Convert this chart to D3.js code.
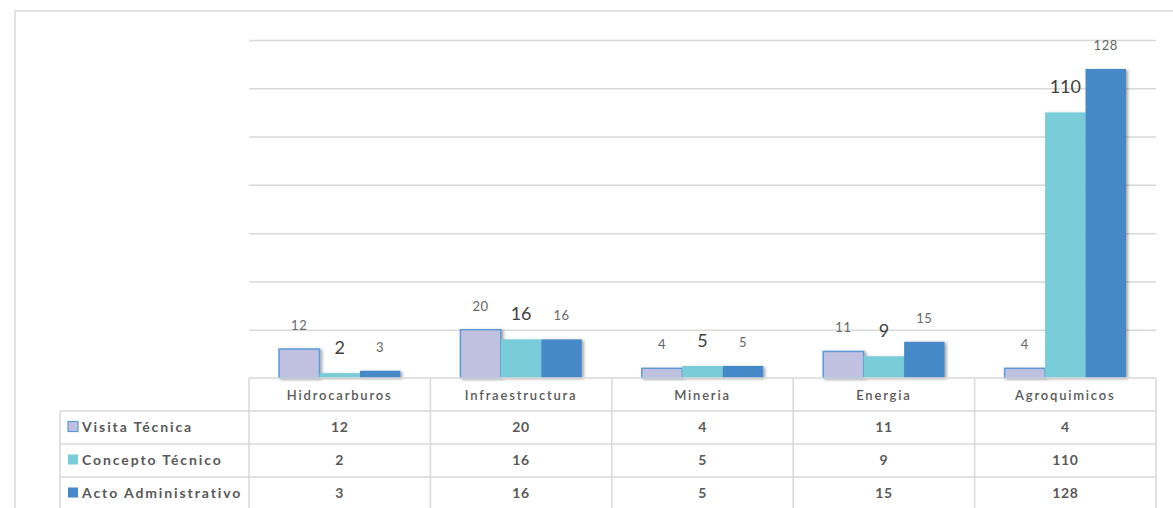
<!DOCTYPE html>
<html>
<head>
<meta charset="utf-8">
<script src="https://cdn.jsdelivr.net/npm/d3@7"></script>
<style>
  body { margin: 0; background: #fff; }
  svg { display: block; font-family: Lato, "Open Sans", sans-serif; }
</style>
</head>
<body>
<div id="chart"></div>
<script>
const categories = ["Hidrocarburos", "Infraestructura", "Mineria", "Energia", "Agroquimicos"];
const seriesNames = ["Visita Técnica", "Concepto Técnico", "Acto Administrativo"];
const visita = [12, 20, 4, 11, 4];
const concepto = [2, 16, 5, 9, 110];
const acto = [3, 16, 5, 15, 128];
const yTicks = [20, 40, 60, 80, 100, 120, 140];

const values = [visita, concepto, acto];
const colors = ["#c0c0e0", "#78cdd9", "#4589c8"];

const width = 1173, height = 508;
const plotLeft = 249, plotRight = 1156, base = 378, plotTop = 40;
const rowH = 33;

const svg = d3.select("#chart").append("svg")
  .attr("width", width)
  .attr("height", height);

// drop shadow for bars
const defs = svg.append("defs");
defs.append("filter").attr("id", "shadow")
  .attr("x", "-20%").attr("y", "-20%").attr("width", "150%").attr("height", "150%")
  .append("feDropShadow")
  .attr("dx", 2).attr("dy", 1).attr("stdDeviation", 1.5)
  .attr("flood-color", "#000").attr("flood-opacity", 0.35);

// outer frame
svg.append("rect")
  .attr("x", 15).attr("y", 11)
  .attr("width", width).attr("height", height)
  .attr("fill", "none").attr("stroke", "#d9d9d9").attr("stroke-width", 1.5);

const x = d3.scaleBand().domain(categories).range([plotLeft, plotRight]).paddingInner(0);
const xs = d3.scaleBand().domain(seriesNames)
  .range([30, x.bandwidth() - 30]).paddingInner(0);
const y = d3.scaleLinear().domain([0, 140]).range([base, plotTop]);

// gridlines
const grid = svg.append("g")
  .attr("transform", `translate(${plotLeft},0)`)
  .call(d3.axisRight(y).tickValues(yTicks).tickSize(plotRight - plotLeft).tickFormat(""));
grid.select(".domain").remove();
grid.selectAll("line").attr("stroke", "#d9d9d9").attr("stroke-width", 1.5);

// bars
const groups = svg.selectAll("g.series")
  .data(seriesNames)
  .enter().append("g")
  .attr("class", "series");

groups.each(function(s, si) {
  const g = d3.select(this);
  g.selectAll("rect")
    .data(values[si])
    .enter().append("rect")
    .attr("x", (d, i) => x(categories[i]) + xs(s))
    .attr("y", d => y(d))
    .attr("width", xs.bandwidth())
    .attr("height", d => base - y(d))
    .attr("fill", colors[si])
    .attr("stroke", si === 0 ? "#5b9bd5" : "none")
    .attr("stroke-width", 1.5)
    .attr("filter", "url(#shadow)");
});

// bar value labels
groups.each(function(s, si) {
  const g = d3.select(this);
  const big = si === 1;
  g.selectAll("text")
    .data(values[si])
    .enter().append("text")
    .attr("x", (d, i) => x(categories[i]) + xs(s) + xs.bandwidth() / 2)
    .attr("y", d => y(d) - 19)
    .attr("text-anchor", "middle")
    .style("font-size", big ? "18px" : "13px")
    .style("letter-spacing", big ? "0px" : "0.6px")
    .style("fill", big ? "#404040" : "#666")
    .text(d => d);
});

// data table
const tableTop = base;
const legendLeft = 60;
const lineColor = "#d9d9d9";
const table = svg.append("g");

// horizontal lines
[0, 1, 2, 3, 4].forEach(r => {
  table.append("line")
    .attr("x1", r === 0 ? plotLeft : legendLeft).attr("x2", plotRight)
    .attr("y1", tableTop + r * rowH).attr("y2", tableTop + r * rowH)
    .attr("stroke", lineColor).attr("stroke-width", 1.5);
});
// vertical lines
table.append("line")
  .attr("x1", legendLeft).attr("x2", legendLeft)
  .attr("y1", tableTop + rowH).attr("y2", height)
  .attr("stroke", lineColor).attr("stroke-width", 1.5);
categories.concat([null]).forEach(c => {
  const xx = c ? x(c) : plotRight;
  table.append("line")
    .attr("x1", xx).attr("x2", xx)
    .attr("y1", tableTop).attr("y2", height)
    .attr("stroke", lineColor).attr("stroke-width", 1.5);
});

// header
table.selectAll("text.head")
  .data(categories)
  .enter().append("text")
  .attr("class", "head")
  .attr("x", d => x(d) + x.bandwidth() / 2)
  .attr("y", tableTop + rowH / 2 + 5)
  .attr("text-anchor", "middle")
  .style("font-size", "13px")
  .style("font-weight", 600)
  .style("letter-spacing", "1.8px")
  .style("fill", "#595959")
  .text(d => d);

// rows
seriesNames.forEach((s, si) => {
  const ry = tableTop + rowH * (si + 1);
  table.append("rect")
    .attr("x", 68).attr("y", ry + rowH / 2 - 6)
    .attr("width", 10).attr("height", 10)
    .attr("fill", colors[si])
    .attr("stroke", si === 0 ? "#5b9bd5" : "none")
    .attr("stroke-width", 1.2);
  table.append("text")
    .attr("x", 82).attr("y", ry + rowH / 2 + 4)
    .style("font-size", "14px")
    .style("font-weight", 700)
    .style("letter-spacing", "1.9px")
    .style("fill", "#595959")
    .text(s);
  table.selectAll(null)
    .data(values[si])
    .enter().append("text")
    .attr("x", (d, i) => x(categories[i]) + x.bandwidth() / 2)
    .attr("y", ry + rowH / 2 + 4)
    .attr("text-anchor", "middle")
    .style("font-size", "14px")
    .style("font-weight", 700)
    .style("letter-spacing", "0.6px")
    .style("fill", "#595959")
    .text(d => d);
});
</script>
</body>
</html>
